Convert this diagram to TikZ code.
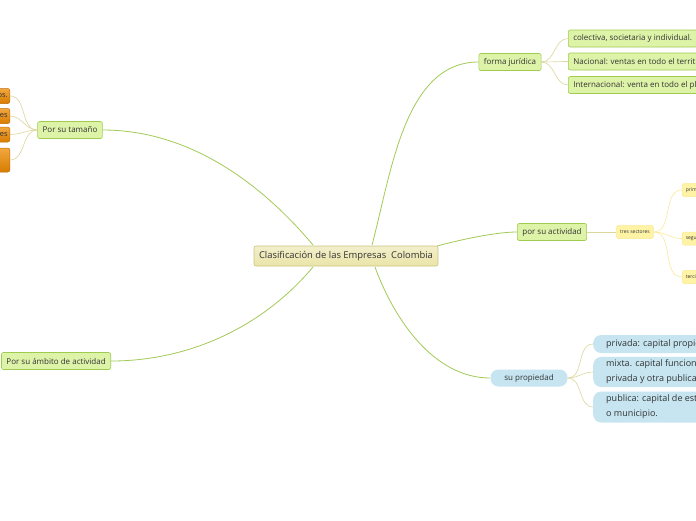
\documentclass[tikz,border=0pt]{standalone}
\usepackage{fontspec}
\setmainfont{Open Sans}
\usepackage{tikz}
\usetikzlibrary{positioning}

\definecolor{mainfill}{HTML}{EAE4A8}
\definecolor{mainborder}{HTML}{CDC47E}
\definecolor{greenfill}{HTML}{DDF3A8}
\definecolor{greenborder}{HTML}{9FCB50}
\definecolor{yellowfill}{HTML}{FFF4A6}
\definecolor{yellowborder}{HTML}{F9E98E}
\definecolor{bluefill}{HTML}{C6E5F0}
\definecolor{orangefill}{HTML}{EE8A00}
\definecolor{orangeborder}{HTML}{C46C00}
\definecolor{mainline}{HTML}{A3C957}
\definecolor{subline}{HTML}{DCD79C}
\definecolor{yellowline}{HTML}{FBEA9A}
\definecolor{textcol}{HTML}{333333}

\tikzset{
  mainnode/.style={draw=mainborder, top color=mainfill!60, bottom color=mainfill,
    rounded corners=2pt, line width=0.6pt, font=\fontsize{9.4}{10}\selectfont,
    text=textcol, minimum width=184pt, minimum height=20pt, inner sep=2pt},
  topicnode/.style={draw=greenborder, fill=greenfill, rounded corners=2pt,
    line width=0.6pt, font=\fontsize{8}{9}\selectfont, text=textcol,
    minimum height=17pt, inner xsep=5pt},
  leafgreen/.style={topicnode, font=\fontsize{8}{9}\selectfont, anchor=west,
    inner xsep=5pt},
  leafyellow/.style={draw=yellowborder, fill=yellowfill, rounded corners=2pt,
    line width=0.5pt, font=\fontsize{5}{6}\selectfont, text=textcol,
    minimum height=13pt, inner xsep=3.5pt},
  leafblue/.style={fill=bluefill, rounded corners=8pt, font=\fontsize{9}{15}\selectfont,
    text=textcol, anchor=west, align=left, inner xsep=13pt, inner ysep=3pt},
  leaforange/.style={draw=orangeborder, top color=orangefill!75, bottom color=orangefill!90!black,
    rounded corners=2pt, line width=0.5pt, font=\fontsize{7.5}{9}\selectfont,
    text=textcol, anchor=east, inner xsep=2pt},
  mainlink/.style={draw=mainline, line width=0.8pt},
  sublink/.style={draw=subline, line width=0.6pt},
  yellowlink/.style={draw=yellowline, line width=0.6pt}
}

\begin{document}
\begin{tikzpicture}[x=1pt, y=-1pt]
  \useasboundingbox (0,0) rectangle (696,520);
  \clip (0,0) rectangle (696,520);
  \fill[white] (0,0) rectangle (696,520);

  % Tema central
  \node[mainnode] (centro) at (346,256) {Clasificación de las Empresas \ Colombia};

  % Ramas principales
  \node[topicnode] (forma) at (510,62) {forma jurídica};
  \node[topicnode] (actividad) at (552,232) {por su actividad};
  \node[topicnode, fill=bluefill, draw=none, rounded corners=8pt,
    minimum width=77pt] (propiedad) at (529,378) {su propiedad};
  \node[topicnode] (tamano) at (70,130) {Por su tamaño};
  \node[topicnode, anchor=east] (ambito) at (111,361) {Por su ámbito de actividad};

  % Puntos de salida del tema central
  \coordinate (cNO) at (313,245);
  \coordinate (cNE) at (372,245);
  \coordinate (cE) at (437,246);
  \coordinate (cSO) at (313,267);
  \coordinate (cSE) at (375,267);

  \draw[mainlink] (cNO) to[out=130, in=0, looseness=0.9] (tamano.east);
  \draw[mainlink] (cNE) to[out=75, in=180, looseness=0.9] (forma.west);
  \draw[mainlink] (cE) to[out=15, in=180, looseness=0.7] (actividad.west);
  \draw[mainlink] (cSE) to[out=-70, in=180, looseness=0.9] (propiedad.west);
  \draw[mainlink] (cSO) to[out=-130, in=0, looseness=0.9] (ambito.east);

  % forma juridica
  \node[leafgreen] (colectiva) at (568,38.5) {colectiva, societaria y individual.};
  \node[leafgreen] (nacional) at (568,61.5) {Nacional: ventas en todo el territorio};
  \node[leafgreen] (internacional) at (568,85) {Internacional: venta en todo el planeta};
  \foreach \n in {colectiva, nacional, internacional}
    \draw[sublink] (forma.east) to[out=0, in=180] (\n.west);

  % por su actividad
  \node[leafyellow] (sectores) at (635,232) {tres sectores};
  \draw[sublink] (actividad.east) -- (sectores.west);
  \node[leafyellow, anchor=west] (primario) at (682,190) {primario};
  \node[leafyellow, anchor=west] (segundo) at (682,238.5) {segundo};
  \node[leafyellow, anchor=west] (terciario) at (682,277) {terciario};
  \foreach \n in {primario, segundo, terciario}
    \draw[yellowlink] (sectores.east) to[out=0, in=180] (\n.west);

  % su propiedad
  \node[leafblue, minimum height=18pt] (privada) at (593,344) {privada: capital propio.};
  \node[leafblue, minimum height=29pt] (mixta) at (593,372)
    {mixta. capital funciona con una parte\\privada y otra publica.};
  \node[leafblue, minimum height=31pt] (publica) at (593,407)
    {publica: capital de estado o departamento\\o municipio.};
  \foreach \n in {privada, mixta, publica}
    \draw[sublink] (propiedad.east) to[out=0, in=180] (\n.west);

  % Por su tamano
  \node[leaforange, minimum height=15pt] (micro) at (10,96) {Microempresas: hasta 10 empleados.};
  \node[leaforange, minimum height=15pt] (pequena) at (10,116) {Pequeñas: entre 11 y 50 trabajadores};
  \node[leaforange, minimum height=15pt] (mediana) at (10,134.5) {Medianas: entre 51 y 200 trabajadores};
  \node[leaforange, minimum height=24pt, text width=110pt, align=left] (grande) at (10,160)
    {Grandes: más de 200\\trabajadores};
  \foreach \n in {micro, pequena, mediana, grande}
    \draw[sublink] (tamano.west) to[out=180, in=0] (\n.east);
\end{tikzpicture}
\end{document}
